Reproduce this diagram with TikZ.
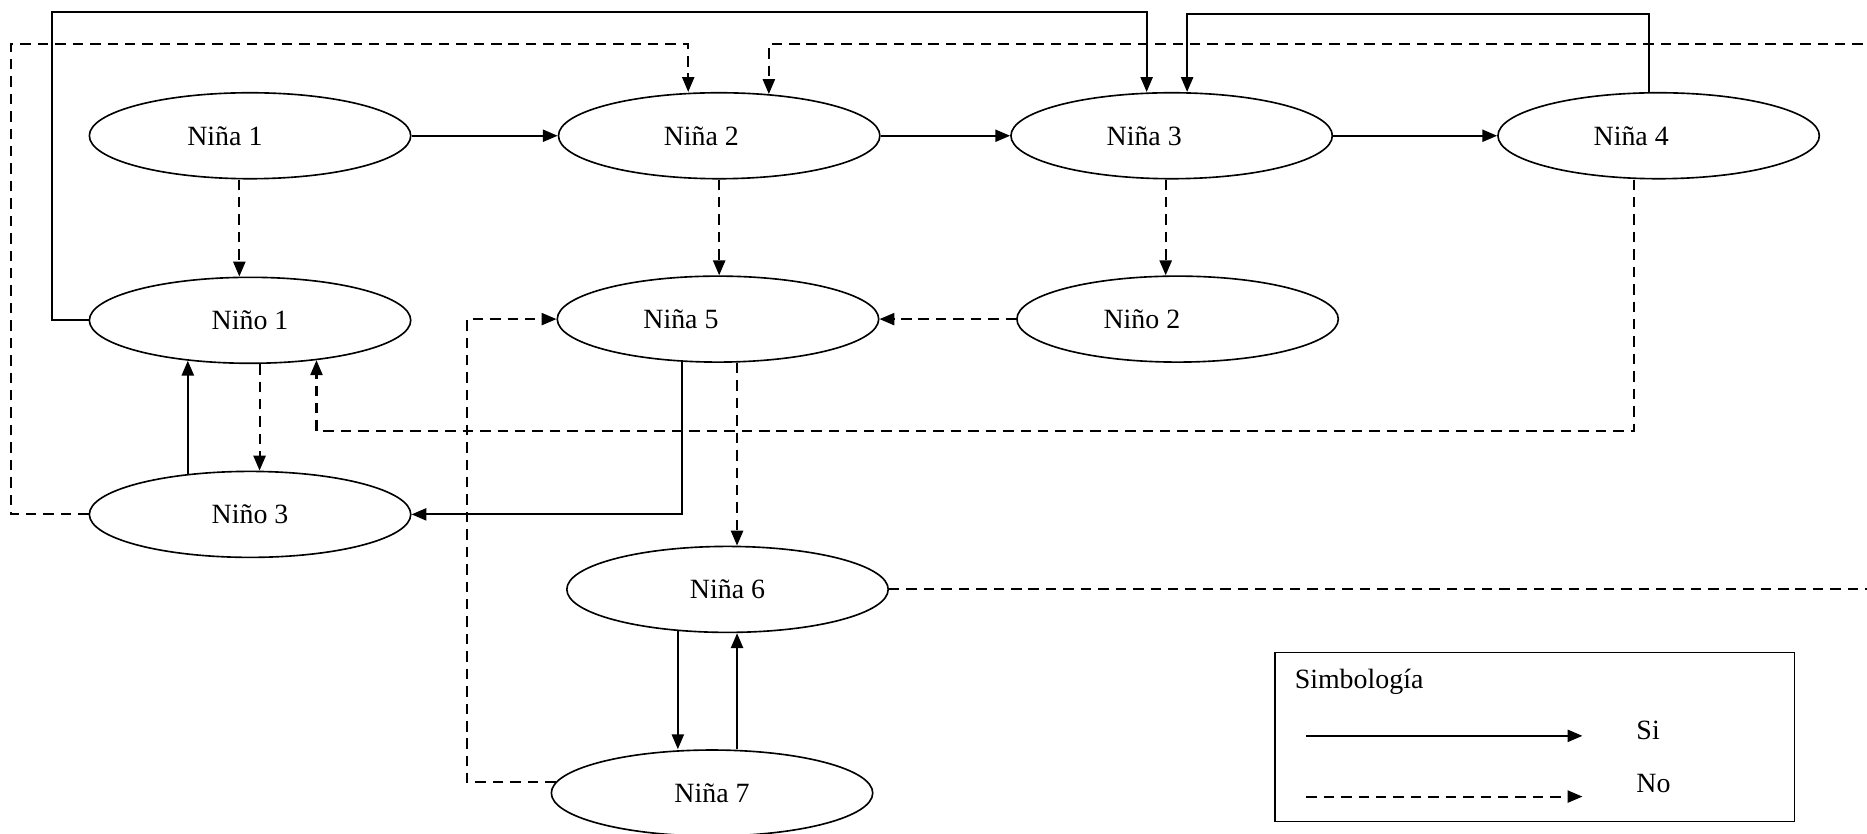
\documentclass[tikz,border=0pt]{standalone}
\usepackage{fontspec}
\setmainfont{Liberation Serif}
\usetikzlibrary{shapes.geometric,arrows.meta}
\tikzset{
  nodo/.style={draw,ellipse,line width=.7pt,minimum width=4.86cm,minimum height=1.3cm,inner sep=0pt,font=\fontsize{12pt}{14pt}\selectfont},
  si/.style={line width=.9pt,-{Triangle[length=6.4pt,width=5.2pt]}},
  no/.style={si,dash pattern=on 4.5pt off 3pt},
  txt/.style={anchor=west,inner sep=0pt,font=\fontsize{12pt}{14pt}\selectfont}
}
\begin{document}
\begin{tikzpicture}[x=.018cm,y=-.018cm]
\useasboundingbox(0,0)rectangle(1568,700);
\node[nodo](n1)at(210,114){Niña 1\hspace*{.76cm}};
\node[nodo](n2)at(604,114){Niña 2\hspace*{.54cm}};
\node[nodo](n3)at(984,114){Niña 3\hspace*{.83cm}};
\node[nodo](n4)at(1393,114){Niña 4\hspace*{.83cm}};
\node[nodo](o1)at(210,269){Niño 1};
\node[nodo](n5)at(603,268){Niña 5\hspace*{1.12cm}};
\node[nodo](o2)at(989,268){Niño 2\hspace*{1.08cm}};
\node[nodo](o3)at(210,432){Niño 3};
\node[nodo](n6)at(611,495){Niña 6};
\node[nodo](n7)at(598,666){Niña 7};
% si
\draw[si](n1)--(n2);
\draw[si](n2)--(n3);
\draw[si](n3)--(n4);
\draw[si](o1.west)--(44,0|-o1.west)--(44,10)--(963,10)--(963,0|-n3.north);
\draw[si](1385,0|-n4.north)--(1385,12)--(997,12)--(997,0|-n3.north);
\draw[si](o3.147)--(o1.-147);
\draw[si](n5.-130)|-(o3.east);
\draw[si](n6.-140)--(n6.-140|-n7.north);
\draw[si](619,0|-n7.north)--(619,0|-n6.south);
% no
\draw[no](201,0|-n1.south)--(201,0|-o1.north);
\draw[no](n2.south)--(n2.south|-n5.north);
\draw[no](979,0|-n3.south)--(979,0|-o2.north);
\draw[no](o2)--(n5);
\draw[no](218,0|-o1.south)--(218,0|-o3.north);
\draw[no](1372,0|-n4.south)--(1372,362)-|(o1.-31);
\draw[no](o3.west)--(9,0|-o3.west)--(9,37)-|(578,0|-n2.north);
\draw[no](n6.east)--(1600,0|-n6.east)--(1600,37)-|(n2.40);
\draw[no](n7.176)--(392,0|-n7.176)--(392,0|-n5.west)--(n5.west);
\draw[no](619,0|-n5.south)--(619,0|-n6.north);
% simbologia
\draw[line width=.7pt](1071,548)rectangle(1507,690);
\node[txt](simb)at(1087,573){Simbología};
\coordinate(s1)at(1097,618);\coordinate(s2)at(1329,618);
\coordinate(d1)at(1097,669);\coordinate(d2)at(1329,669);
\draw[si](s1)--(s2);
\draw[no](d1)--(d2);
\node[txt](tsi)at(1374,613){Si};
\node[txt](tno)at(1374,658){No};
\end{tikzpicture}
\end{document}
